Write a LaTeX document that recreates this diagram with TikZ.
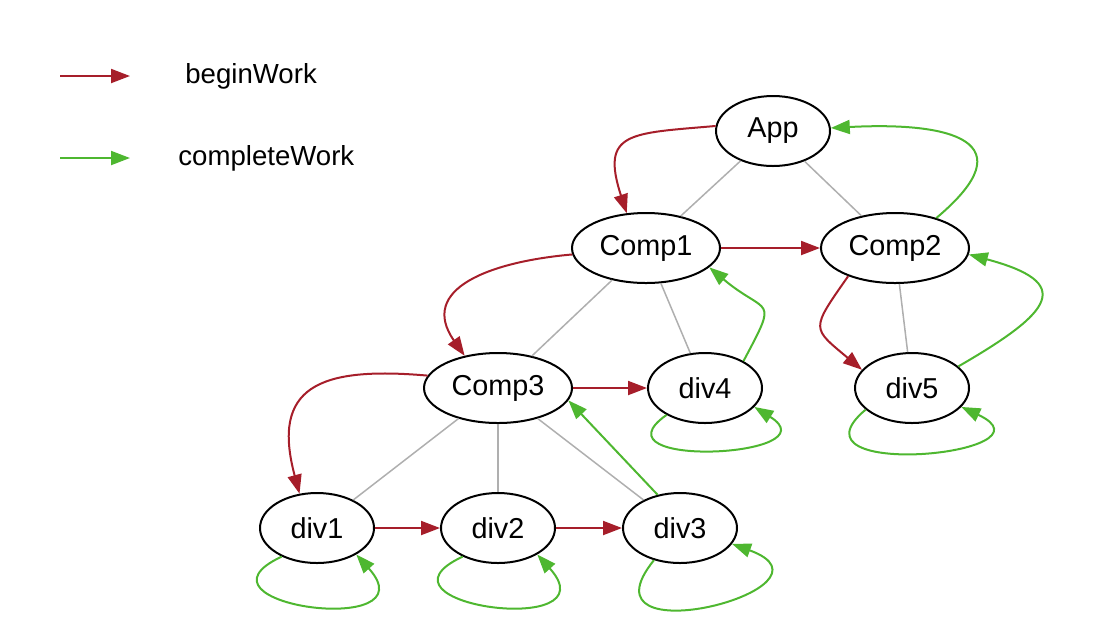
\documentclass[tikz,border=0pt]{standalone}
\usepackage{fontspec}
\setmainfont{Liberation Sans}
\usetikzlibrary{arrows.meta,shapes.geometric}
\definecolor{beginred}{RGB}{166,30,42}
\definecolor{completegreen}{RGB}{78,183,48}
\definecolor{treegray}{RGB}{175,175,175}

\begin{document}
\begin{tikzpicture}[->,>={Triangle[length=9.5pt,width=7pt]},x=0.5pt,y=-0.5pt,
  main node/.style={ellipse,draw,line width=1pt,inner sep=0pt,minimum width=57pt,minimum height=35pt,font=\fontsize{14.4}{17}\selectfont},
  comp node/.style={main node,minimum width=74pt},
  tree line/.style={-,draw=treegray,line width=0.75pt},
  beginwork/.style={draw=beginred,line width=1pt},
  completework/.style={draw=completegreen,line width=1pt},
  legend text/.style={anchor=base west,inner sep=0pt,font=\fontsize{13.8}{16}\selectfont}]

 \useasboundingbox (0,0) rectangle (1112,634);

 \node[main node] (App) at (773,131) {App};
 \node[comp node] (Comp1) at (646,248) {Comp1};
 \node[comp node] (Comp2) at (895,248) {Comp2};
 \node[comp node] (Comp3) at (498,388) {Comp3};
 \node[main node] (div4) at (705,388) {div4};
 \node[main node] (div5) at (912,388) {div5};
 \node[main node] (div1) at (317,528) {div1};
 \node[main node] (div2) at (498,528) {div2};
 \node[main node] (div3) at (680,528) {div3};

 % legend
 \coordinate (begin start) at (60,76);
 \coordinate (begin end) at (130,76);
 \coordinate (complete start) at (60,158);
 \coordinate (complete end) at (130,158);
 \node[legend text] (begin label) at (185,83) {beginWork};
 \node[legend text] (complete label) at (178,165) {completeWork};

 \path
    (begin start)	edge [beginwork] (begin end)
    (complete start)	edge [completework] (complete end);

 \path
    (App)	edge [tree line] (Comp1)
    (App)	edge [tree line] (Comp2)
    (Comp1)	edge [tree line] (Comp3)
    (Comp1)	edge [tree line] (div4)
    (Comp2)	edge [tree line] (div5)
    (Comp3)	edge [tree line] (div1)
    (Comp3)	edge [tree line] (div2)
    (Comp3)	edge [tree line] (div3);

 % beginWork
 \path
    (App.175)	edge [beginwork,out=185,in=108,distance=43pt] (Comp1.119)
    (Comp1)	edge [beginwork] (Comp2)
    (Comp1.185)	edge [beginwork,out=185,in=125,distance=41pt] (Comp3.136)
    (Comp2.211)	edge [beginwork,out=235,in=140,distance=33pt] (div5.160)
    (Comp3)	edge [beginwork] (div4)
    (Comp3.170)	edge [beginwork,out=175,in=105,distance=55pt] (div1.117)
    (div1)	edge [beginwork] (div2)
    (div2)	edge [beginwork] (div3);

 % completeWork
 \path
    (div1.-141)	edge [completework,out=-155,in=-48,distance=57pt] (div1.-34)
    (div2.-141)	edge [completework,out=-155,in=-48,distance=57pt] (div2.-34)
    (div3.-129)	edge [completework,out=-129,in=-20,distance=64pt] (div3.-17)
    (div3.124)	edge [completework] (Comp3.-10)
    (div4.-145)	edge [completework,out=-145,in=-32,distance=47.5pt] (div4.-21)
    (div4.35)	edge [completework,out=62,in=-40,distance=38pt] (Comp1.-17)
    (div5.-155)	edge [completework,out=-140,in=-25,distance=56pt] (div5.-21)
    (div5.25)	edge [completework,out=30,in=-15,distance=55pt] (Comp2.-5)
    (Comp2.36)	edge [completework,out=40,in=3,distance=60pt] (App.3);

\end{tikzpicture}
\end{document}
